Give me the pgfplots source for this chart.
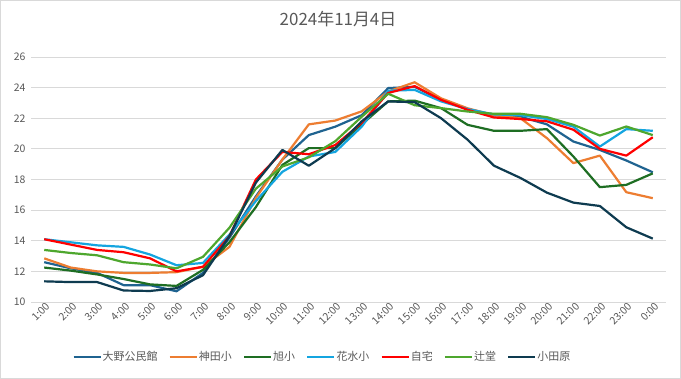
\documentclass[border=0pt]{standalone}
\usepackage{fontspec}
\setmainfont{Noto Sans CJK JP}
\usepackage{pgfplots}
\usepackage{pgfplotstable}
\pgfplotsset{compat=1.18}
\definecolor{cA}{HTML}{1F6390}
\definecolor{cB}{HTML}{ED7D31}
\definecolor{cC}{HTML}{1E6E23}
\definecolor{cD}{HTML}{14A5E0}
\definecolor{cE}{HTML}{FF0000}
\definecolor{cF}{HTML}{4EA72E}
\definecolor{cG}{HTML}{0E3B50}
\definecolor{gridgray}{HTML}{D9D9D9}
\definecolor{labgray}{HTML}{595959}
\pgfplotstableread{
x  A      B      C      D      E      F      G
0  12.6   12.85  12.25  14.1   14.1   13.4   11.35
1  12.2   12.25  12.05  13.9   13.75  13.2   11.3
2  11.9   12.0   11.8   13.7   13.4   13.05  11.3
3  11.1   11.9   11.5   13.6   13.25  12.6   10.75
4  11.1   11.9   11.15  13.1   12.85  12.45  10.72
5  10.7   11.95  11.05  12.4   12.0   12.2   10.9
6  11.9   12.3   12.1   12.55  12.3   12.95  11.75
7  14.2   13.6   13.9   14.4   14.3   14.85  14.3
8  16.9   16.8   16.2   16.6   18.0   17.4   17.8
9  19.3   19.3   18.95  18.5   19.8   18.85  19.93
10 20.9   21.6   20.05  19.5   19.65  19.45  18.9
11 21.45  21.85  20.05  19.8   20.25  20.5   20.05
12 22.2   22.45  21.6   21.45  21.7   22.1   21.8
13 23.97  23.75  23.1   23.8   23.65  23.6   23.1
14 24.05  24.35  23.15  23.85  24.1   22.85  23.05
15 23.2   23.3   22.66  23.1   23.2   22.66  22.0
16 22.6   22.65  21.57  22.6   22.55  22.44  20.6
17 22.2   22.2   21.18  22.25  22.05  22.29  18.9
18 22.1   22.0   21.18  22.2   21.95  22.29  18.1
19 21.6   20.7   21.29  21.95  21.8   22.07  17.14
20 20.48  19.07  19.5   21.45  21.25  21.57  16.49
21 19.93  19.56  17.5   20.15  20.0   20.87  16.27
22 19.24  17.17  17.65  21.29  19.56  21.46  14.88
23 18.47  16.78  18.4   21.18  20.76  20.9   14.14
}\datatable
\begin{document}
\begin{tikzpicture}
\useasboundingbox (-31bp,-77bp) rectangle (650bp,302bp);
\fill[white] (-31bp,-77bp) rectangle (650bp,302bp);
\begin{axis}[
  scale only axis, width=635bp, height=245bp,
  at={(0,0)}, anchor=south west,
  xmin=-0.5, xmax=23.5, ymin=10, ymax=26,
  ytick={10,12,...,26},
  xtick={0,...,23},
  xticklabels={1:00,2:00,3:00,4:00,5:00,6:00,7:00,8:00,9:00,10:00,11:00,12:00,13:00,14:00,15:00,16:00,17:00,18:00,19:00,20:00,21:00,22:00,23:00,0:00},
  ymajorgrids, grid style={draw=gridgray, line width=0.75bp},
  axis line style={draw=none}, tick style={draw=none},
  tick label style={font=\fontsize{10.5}{12}\selectfont, text=labgray},
  yticklabel style={xshift=-2bp},
  xticklabel style={rotate=45, anchor=east, xshift=2.5bp, yshift=-4.5bp, inner sep=1bp},
  /pgf/number format/assume math mode=true,
  title={2024年11月4日},
  title style={at={(0.4835,1.1306)}, anchor=center, font=\fontsize{17}{19}\selectfont, text=labgray},
  legend style={at={(0.458,-0.224)}, anchor=center, draw=none, fill=none,
    legend columns=-1, font=\fontsize{11}{13}\selectfont, text=labgray,
    /tikz/every even column/.append style={column sep=10bp},
    nodes={inner xsep=1bp}},
  legend image code/.code={\draw[#1, line width=2.4bp] (0bp,0bp)--(27bp,0bp);},
  every axis plot/.append style={line width=2.2bp, mark=none, line join=round},
]
\addplot[cA] table[x=x,y=A]{\datatable};
\addplot[cB] table[x=x,y=B]{\datatable};
\addplot[cC] table[x=x,y=C]{\datatable};
\addplot[cD] table[x=x,y=D]{\datatable};
\addplot[cE] table[x=x,y=E]{\datatable};
\addplot[cF] table[x=x,y=F]{\datatable};
\addplot[cG] table[x=x,y=G]{\datatable};
\legend{大野公民館,神田小,旭小,花水小,自宅,辻堂,小田原}
\end{axis}
\draw[gridgray, line width=1bp] (-30.5bp,-76.5bp) rectangle (649.5bp,301.5bp);
\end{tikzpicture}
\end{document}
